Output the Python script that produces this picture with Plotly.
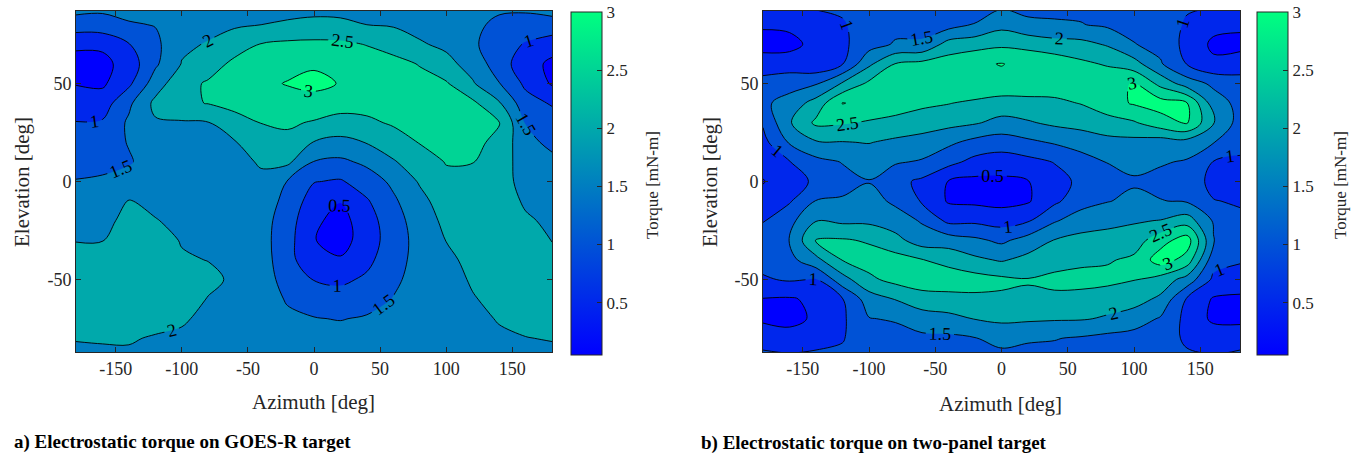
import numpy as np
import plotly.graph_objects as go

W, H = 1359, 459
SERIF = "Liberation Serif"
INK = "#262626"

# ---------------- data ----------------
azimuth_deg = [-180, -160, -140, -120, -100, -80, -60, -40, -20, 0,
               20, 40, 60, 80, 100, 120, 140, 160, 180]
# each column below lists torque [mN-m] from elevation +90 down to -90 (step 10)
elevation_top_down = [90, 80, 70, 60, 50, 40, 30, 20, 10, 0,
                      -10, -20, -30, -40, -50, -60, -70, -80, -90]

goes_r_columns = [
    [1.7, 1.3, 0.55, 0.4, 0.48, 0.7, 1.02, 1.2, 1.35, 1.52, 1.7, 1.85, 1.99, 2.1, 2.15, 2.15, 2.1, 2.02, 1.9],    # -180
    [1.65, 1.3, 0.6, 0.35, 0.42, 0.75, 1.05, 1.25, 1.4, 1.55, 1.72, 1.88, 1.99, 2.12, 2.2, 2.22, 2.18, 2.04, 1.9],  # -160
    [1.72, 1.45, 0.98, 0.72, 0.9, 1.4, 1.58, 1.53, 1.45, 1.72, 2.02, 2.12, 2.22, 2.28, 2.3, 2.28, 2.22, 2.05, 1.9], # -140
    [1.78, 1.52, 1.38, 1.42, 1.75, 2.12, 1.95, 1.8, 1.75, 1.8, 1.9, 2.02, 2.2, 2.3, 2.32, 2.3, 2.2, 1.95, 1.85],    # -120
    [1.8, 1.85, 1.92, 2.02, 2.35, 2.4, 1.95, 1.85, 1.8, 1.8, 1.85, 1.9, 1.97, 2.05, 2.2, 2.2, 2.05, 1.93, 1.85],    # -100
    [1.82, 1.88, 2.03, 2.3, 2.55, 2.52, 1.98, 1.9, 1.85, 1.82, 1.83, 1.87, 1.93, 1.99, 2.1, 1.98, 1.9, 1.88, 1.85],  # -80
    [1.84, 1.93, 2.3, 2.6, 2.7, 2.62, 2.35, 1.97, 1.85, 1.8, 1.8, 1.82, 1.85, 1.9, 1.93, 1.9, 1.88, 1.86, 1.85],    # -60
    [1.85, 2.0, 2.52, 2.8, 2.92, 2.78, 2.51, 2.25, 2.05, 1.9, 1.78, 1.72, 1.7, 1.72, 1.75, 1.78, 1.82, 1.84, 1.85],  # -40
    [1.85, 2.05, 2.6, 2.88, 3.02, 2.85, 2.58, 2.35, 2.1, 1.48, 1.35, 1.22, 1.18, 1.2, 1.3, 1.45, 1.6, 1.75, 1.82],   # -20
    [1.85, 2.1, 2.62, 2.95, 3.1, 2.85, 2.45, 1.98, 1.48, 1.02, 0.75, 0.6, 0.52, 0.58, 0.98, 1.3, 1.52, 1.7, 1.8],    # 0
    [1.85, 2.08, 2.6, 2.88, 2.98, 2.75, 2.28, 1.88, 1.4, 0.95, 0.52, 0.32, 0.3, 0.55, 0.9, 1.22, 1.48, 1.68, 1.8],   # 20
    [1.85, 2.0, 2.48, 2.75, 2.8, 2.65, 2.42, 2.02, 1.6, 1.25, 0.95, 0.78, 0.75, 0.88, 1.08, 1.3, 1.55, 1.72, 1.82],  # 40
    [1.84, 1.95, 2.35, 2.62, 2.7, 2.65, 2.55, 2.3, 1.95, 1.6, 1.42, 1.3, 1.25, 1.3, 1.4, 1.52, 1.65, 1.78, 1.85],    # 60
    [1.8, 1.85, 2.05, 2.48, 2.62, 2.65, 2.62, 2.52, 2.3, 2.05, 1.85, 1.73, 1.68, 1.68, 1.7, 1.73, 1.77, 1.8, 1.85],  # 80
    [1.75, 1.78, 1.9, 2.15, 2.55, 2.62, 2.62, 2.6, 2.52, 2.4, 2.25, 2.12, 2.01, 1.9, 1.82, 1.8, 1.8, 1.82, 1.85],    # 100
    [1.6, 1.55, 1.56, 1.8, 2.05, 2.6, 2.62, 2.6, 2.51, 2.4, 2.3, 2.25, 2.2, 2.12, 2.05, 1.97, 1.88, 1.85, 1.85],     # 120
    [1.55, 1.45, 1.3, 1.25, 1.52, 2.05, 2.52, 2.4, 2.3, 2.22, 2.2, 2.2, 2.2, 2.2, 2.18, 2.12, 2.03, 1.93, 1.88],     # 140
    [1.6, 1.35, 0.95, 0.7, 0.9, 1.2, 1.48, 1.62, 1.72, 1.82, 1.95, 2.05, 2.12, 2.15, 2.17, 2.15, 2.1, 1.99, 1.9],    # 160
    [1.7, 1.35, 0.7, 0.4, 0.45, 0.95, 1.25, 1.4, 1.6, 1.75, 1.85, 1.93, 1.99, 2.1, 2.15, 2.15, 2.1, 2.02, 1.9],      # 180
]

two_panel_columns = [
    [1.02, 0.55, 0.35, 0.7, 1.2, 1.4, 1.05, 0.85, 0.7, 0.47, 0.7, 0.98, 1.2, 1.15, 0.95, 0.48, 0.4, 0.85, 1.1],    # -180
    [1.05, 0.6, 0.35, 0.75, 1.3, 1.7, 1.95, 1.55, 0.98, 0.8, 0.95, 1.35, 1.52, 1.35, 1.05, 0.45, 0.35, 0.7, 1.1],  # -160
    [1.05, 0.85, 0.65, 0.62, 1.45, 2.2, 2.6, 1.95, 1.35, 1.08, 1.52, 1.98, 2.52, 1.85, 0.98, 0.6, 0.58, 0.85, 1.1], # -140
    [1.1, 0.95, 0.9, 0.98, 2.05, 3.02, 2.55, 1.98, 1.52, 1.35, 1.55, 1.9, 2.55, 2.52, 1.8, 0.98, 0.92, 0.97, 1.1],  # -120
    [1.2, 1.25, 1.3, 1.9, 2.6, 2.85, 2.45, 2.02, 1.7, 1.48, 1.7, 1.9, 2.45, 2.7, 2.4, 1.75, 1.48, 1.3, 1.25],       # -100
    [1.3, 1.35, 1.55, 2.52, 2.8, 2.75, 2.35, 1.9, 1.55, 1.15, 1.4, 1.75, 2.15, 2.7, 2.65, 2.02, 1.55, 1.3, 1.25],   # -80
    [1.35, 1.35, 1.56, 2.65, 2.85, 2.6, 2.25, 1.8, 1.45, 0.9, 0.95, 1.45, 1.75, 2.52, 2.75, 2.3, 1.75, 1.4, 1.3],   # -60
    [1.3, 1.3, 2.2, 2.75, 2.9, 2.52, 2.15, 1.6, 1.15, 0.48, 0.45, 0.88, 1.75, 2.35, 2.75, 2.35, 1.85, 1.4, 1.3],    # -40
    [1.35, 1.52, 2.3, 2.92, 2.95, 2.4, 2.05, 1.35, 0.85, 0.38, 0.4, 0.9, 1.6, 2.1, 2.7, 2.4, 2.02, 1.48, 1.3],      # -20
    [1.4, 1.85, 2.4, 3.02, 2.85, 2.3, 1.85, 1.25, 0.75, 0.4, 0.35, 0.8, 1.4, 1.95, 2.6, 2.42, 2.1, 1.65, 1.35],     # 0
    [1.35, 1.6, 2.35, 2.85, 2.8, 2.35, 1.95, 1.4, 0.85, 0.48, 0.45, 0.95, 1.7, 2.15, 2.52, 2.45, 2.08, 1.55, 1.35], # 20
    [1.38, 1.55, 2.2, 2.8, 2.75, 2.4, 2.1, 1.55, 1.02, 0.82, 0.9, 1.45, 2.02, 2.3, 2.62, 2.4, 2.05, 1.52, 1.35],    # 40
    [1.38, 1.52, 2.15, 2.6, 2.75, 2.52, 2.18, 1.7, 1.3, 1.1, 1.3, 1.75, 2.15, 2.4, 2.65, 2.35, 2.04, 1.45, 1.3],    # 60
    [1.3, 1.42, 1.95, 2.45, 2.85, 2.8, 2.3, 1.85, 1.52, 1.25, 1.48, 1.85, 2.2, 2.45, 2.65, 2.2, 1.95, 1.35, 1.25],  # 80
    [1.25, 1.35, 1.52, 2.2, 3.03, 3.05, 2.45, 1.85, 1.62, 1.45, 1.6, 1.95, 2.25, 2.6, 2.52, 2.2, 1.75, 1.3, 1.2],   # 100
    [1.15, 1.22, 1.35, 1.55, 2.35, 3.2, 2.8, 1.75, 1.55, 1.35, 1.52, 2.02, 2.8, 3.25, 2.3, 1.9, 1.45, 1.15, 1.1],   # 120
    [1.05, 0.95, 0.85, 0.98, 1.75, 3.02, 3.05, 1.8, 1.45, 1.3, 1.45, 2.25, 3.25, 2.8, 1.8, 0.95, 0.85, 0.95, 1.05], # 140
    [1.05, 0.65, 0.4, 0.6, 1.4, 1.75, 2.02, 1.52, 0.98, 0.85, 1.02, 1.45, 1.52, 1.2, 0.9, 0.45, 0.4, 0.8, 1.05],    # 160
    [1.02, 0.6, 0.35, 0.75, 1.2, 1.35, 1.3, 1.1, 0.95, 0.8, 0.95, 1.1, 1.2, 1.05, 0.8, 0.4, 0.35, 0.85, 1.1],       # 180
]

contour_levels = [0.5, 1.0, 1.5, 2.0, 2.5, 3.0]
colorbar_ticks = [0.5, 1, 1.5, 2, 2.5, 3]
colorbar_ticktext = ["0.5", "1", "1.5", "2", "2.5", "3"]
az_ticks = [-150, -100, -50, 0, 50, 100, 150]
az_ticktext = ["-150", "-100", "-50", "0", "50", "100", "150"]
el_ticks = [-50, 0, 50]
el_ticktext = ["-50", "0", "50"]
cbar_min, cbar_max = 0.05, 3.0

# ---------------- styling helpers ----------------
def winter(v):
    t = (v - cbar_min) / (cbar_max - cbar_min)
    t = min(max(t, 0.0), 1.0)
    return "rgb(0,%d,%d)" % (round(255 * t), round(255 * (1 - 0.5 * t)))

# colour of each filled band: below the first level, then the band's lower level
band_colors = [winter(cbar_min)] + [winter(l) for l in contour_levels]
nb = len(band_colors) - 1
band_scale = []
for k, c in enumerate(band_colors):
    band_scale.append([max(0.0, (k - 0.5) / nb), c])
    band_scale.append([min(1.0, (k + 0.5) / nb), c])
winter_scale = [[0, winter(cbar_min)], [1, winter(cbar_max)]]

el_up = elevation_top_down[::-1]


def zgrid(cols):
    return np.array(cols).T[::-1].tolist()


fig = go.Figure()
panels = [
    (goes_r_columns, "x", "y", 571),
    (two_panel_columns, "x2", "y2", 1257),
]
for cols, xa, ya, cbx in panels:
    fig.add_trace(go.Contour(
        x=azimuth_deg, y=el_up, z=zgrid(cols), xaxis=xa, yaxis=ya,
        autocontour=False,
        contours=dict(start=contour_levels[0], end=contour_levels[-1],
                      size=contour_levels[1] - contour_levels[0],
                      coloring="fill", showlabels=True,
                      labelfont=dict(family=SERIF, size=18, color="black"),
                      labelformat=".2~f"),
        colorscale=band_scale, showscale=False,
        line=dict(color="black", width=0.9, smoothing=1.0),
        hoverinfo="skip"))
    fig.add_trace(go.Scatter(
        x=[0, 0], y=[500, 500], xaxis=xa, yaxis=ya, mode="markers",
        showlegend=False, hoverinfo="skip",
        marker=dict(size=1, color=[cbar_min, cbar_max], cmin=cbar_min, cmax=cbar_max,
                    colorscale=winter_scale, showscale=True,
                    colorbar=dict(x=cbx / W, xanchor="left", y=1 - 12 / H, yanchor="top",
                                  len=343 / H, lenmode="fraction",
                                  thickness=31, thicknessmode="pixels",
                                  xpad=0, ypad=0, outlinewidth=1, outlinecolor=INK,
                                  tickvals=colorbar_ticks, ticktext=colorbar_ticktext,
                                  ticks="inside", ticklen=5, tickcolor=INK,
                                  tickfont=dict(family=SERIF, size=17, color=INK)))))

axis_common = dict(showline=True, mirror="allticks", linecolor=INK, linewidth=1,
                   ticks="inside", ticklen=5, tickcolor=INK, showgrid=False, zeroline=False,
                   tickfont=dict(family=SERIF, size=18, color=INK))
ydom = [1 - 352 / H, 1 - 11 / H]
fig.update_layout(
    width=W, height=H, margin=dict(l=0, r=0, t=0, b=0),
    paper_bgcolor="white", plot_bgcolor="white", showlegend=False,
    xaxis=dict(domain=[76 / W, 552 / W], range=[-180, 180], tickvals=az_ticks,
               ticktext=az_ticktext, anchor="y", **axis_common),
    yaxis=dict(domain=ydom, range=[-87, 87], tickvals=el_ticks, ticktext=el_ticktext,
               anchor="x", **axis_common),
    xaxis2=dict(domain=[763 / W, 1240 / W], range=[-180, 180], tickvals=az_ticks,
                ticktext=az_ticktext, anchor="y2", **axis_common),
    yaxis2=dict(domain=ydom, range=[-87, 87], tickvals=el_ticks, ticktext=el_ticktext,
                anchor="x2", **axis_common),
)


def note(text, px, py, size, angle=0, xanchor="center", bold=False):
    fig.add_annotation(text=("<b>%s</b>" % text) if bold else text,
                       x=px / W, y=1 - py / H, xref="paper", yref="paper",
                       showarrow=False, textangle=angle, xanchor=xanchor, yanchor="middle",
                       font=dict(family=SERIF, size=size, color=INK if not bold else "black"))


note("Azimuth [deg]", 313.5, 402, 21)
note("Azimuth [deg]", 1001, 404, 21)
note("Elevation [deg]", 22, 182, 21, angle=-90)
note("Elevation [deg]", 710, 182, 21, angle=-90)
note("Torque [mN-m]", 652, 185, 17, angle=-90)
note("Torque [mN-m]", 1340, 185, 17, angle=-90)
note("a) Electrostatic torque on GOES-R target", 12, 442, 19, xanchor="left", bold=True)
note("b) Electrostatic torque on two-panel target", 699, 443, 19, xanchor="left", bold=True)

fig.write_html("out.html", config={"displayModeBar": False},
               post_script="document.body.style.margin='0';")
